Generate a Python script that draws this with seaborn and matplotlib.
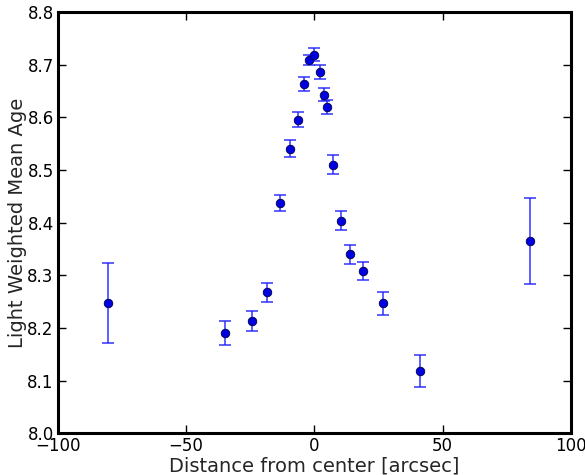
import matplotlib
matplotlib.use("Agg")
import matplotlib.pyplot as plt
import seaborn as sns
import pandas as pd

distance = [-80.5, -34.9, -24.4, -18.5, -13.5, -9.6, -6.4, -4.1, -2.1, -0.2,
            2.1, 3.7, 4.9, 7.2, 10.3, 13.8, 18.9, 26.7, 41.1, 84.0]
age = [8.247, 8.190, 8.213, 8.268, 8.437, 8.540, 8.595, 8.663, 8.709, 8.719,
       8.686, 8.643, 8.620, 8.510, 8.403, 8.340, 8.308, 8.247, 8.118, 8.365]
age_err = [0.076, 0.023, 0.019, 0.018, 0.016, 0.016, 0.014, 0.014, 0.010, 0.012,
           0.013, 0.013, 0.013, 0.018, 0.018, 0.018, 0.018, 0.022, 0.030, 0.082]

xticks = [-100, -50, 0, 50, 100]
yticks = [8.0, 8.1, 8.2, 8.3, 8.4, 8.5, 8.6, 8.7, 8.8]

df = pd.DataFrame({"distance": distance, "age": age, "err": age_err})

sns.set_style("white")
plt.rcParams["font.family"] = ["DejaVu Sans"]

fig = plt.figure(figsize=(5.85, 4.75), dpi=100)
ax = fig.add_axes([0.099, 0.088, 0.877, 0.887])

ax.errorbar(df["distance"], df["age"], yerr=df["err"], fmt="none",
            ecolor="#2222ff", elinewidth=1.2, capsize=4, capthick=1.2, alpha=0.85, zorder=2)
sns.scatterplot(data=df, x="distance", y="age", ax=ax, color="#0000e0",
                edgecolor="#000044", linewidth=0.6, s=38, zorder=3, legend=False)

ax.set_xlim(-100, 100)
ax.set_ylim(8.0, 8.8)
ax.set_xticks(xticks)
ax.set_yticks(yticks)
ax.set_xticklabels([str(t).replace("-", "\u2212") for t in xticks], fontsize=12)
ax.set_yticklabels([f"{t:.1f}" for t in yticks], fontsize=12)
ax.tick_params(direction="in", length=6, width=1, colors="black", pad=3)
ax.tick_params(axis="both", which="both", top=True, right=True, bottom=True, left=True)
for s in ax.spines.values():
    s.set_linewidth(2.2)
    s.set_color("black")

ax.set_xlabel("Distance from center [arcsec]", fontsize=14, labelpad=1)
ax.set_ylabel("Light Weighted Mean Age", fontsize=14, labelpad=0)

fig.savefig("out.png", dpi=100)
